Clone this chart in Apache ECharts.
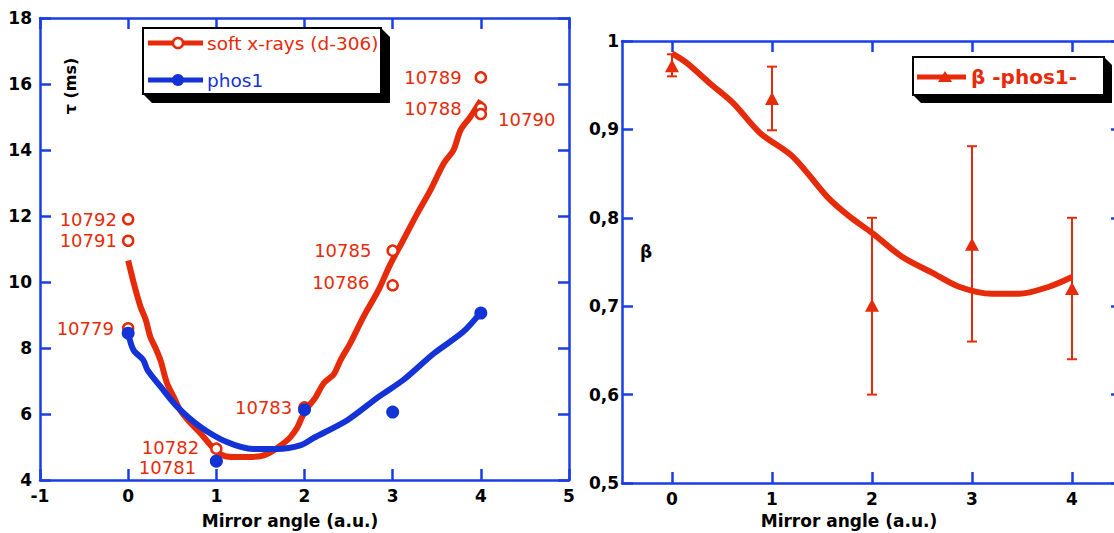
<!DOCTYPE html>
<html>
<head>
<meta charset="utf-8">
<script src="https://cdn.jsdelivr.net/npm/echarts@6/dist/echarts.min.js"></script>
<style>
html,body{margin:0;padding:0;background:#fff;}
#chart{width:1114px;height:533px;}
</style>
</head>
<body>
<div id="chart"></div>
<script>
// ---------- DATA ----------
// Left panel: tau (ms) vs mirror angle
const leftXTicks = [-1, 0, 1, 2, 3, 4, 5];
const leftYTicks = [4, 6, 8, 10, 12, 14, 16, 18];
const softShotX = [0, 0, 0, 1, 1, 2, 3, 3, 4, 4, 4];
const softShotY = [11.9, 11.25, 8.6, 4.95, 4.58, 6.2, 10.95, 9.9, 16.2, 15.27, 15.09];
const softShotId = ['10792', '10791', '10779', '10782', '10781', '10783', '10785', '10786', '10789', '10788', '10790'];
const phosShotX = [0, 1, 2, 3, 4];
const phosShotY = [8.45, 4.57, 6.13, 6.06, 9.06];
const softFitX = [0, 0.07, 0.14, 0.2, 0.25, 0.32, 0.37, 0.44, 0.52, 0.59, 0.7, 0.82, 0.92, 1.01, 1.1, 1.2, 1.35, 1.5, 1.6, 1.69, 1.78, 1.84, 1.92, 1.98, 2.05, 2.12, 2.22, 2.33, 2.41, 2.52, 2.67, 2.84, 2.97, 3.12, 3.28, 3.43, 3.58, 3.69, 3.77, 3.88, 4.0];
const softFitY = [10.65, 9.9, 9.25, 8.85, 8.35, 7.94, 7.6, 6.94, 6.5, 6.12, 5.75, 5.42, 5.1, 4.85, 4.72, 4.7, 4.7, 4.72, 4.82, 4.97, 5.15, 5.3, 5.6, 5.95, 6.25, 6.48, 6.94, 7.2, 7.64, 8.15, 8.95, 9.76, 10.52, 11.27, 12.08, 12.79, 13.6, 14.0, 14.6, 15.0, 15.5];
const phosFitX = [0, 0.06, 0.17, 0.22, 0.37, 0.56, 0.82, 1.12, 1.42, 1.69, 1.96, 2.1, 2.49, 2.84, 3.12, 3.47, 3.8, 4.0];
const phosFitY = [8.45, 7.94, 7.64, 7.33, 6.82, 6.21, 5.61, 5.15, 4.94, 4.94, 5.06, 5.27, 5.82, 6.52, 7.03, 7.84, 8.49, 9.08];

// Right panel: beta vs mirror angle
const rightXTicks = [0, 1, 2, 3, 4];
const rightYTicks = [0.5, 0.6, 0.7, 0.8, 0.9, 1];
const betaX = [0, 1, 2, 3, 4];
const betaY = [0.972, 0.935, 0.701, 0.77, 0.72];
const betaLow = [0.96, 0.899, 0.6, 0.66, 0.64];
const betaHigh = [0.985, 0.971, 0.8, 0.881, 0.8];
const betaFitX = [0, 0.15, 0.38, 0.61, 0.88, 1.21, 1.55, 1.78, 2.0, 2.3, 2.6, 2.87, 3.2, 3.47, 3.77, 4.0];
const betaFitY = [0.986, 0.975, 0.952, 0.93, 0.896, 0.869, 0.824, 0.801, 0.783, 0.756, 0.738, 0.722, 0.714, 0.714, 0.722, 0.733];

// ---------- STYLE ----------
const RED = '#e62b0a';
const BLUE = '#1433d6';
const AXIS_BLUE = '#1a3ee6';
const FONT = 'DejaVu Sans';

// label placement for each shot id (style only)
const softLabelPlace = {
  '10792': {position: 'left', distance: 5},
  '10791': {position: 'left', distance: 5},
  '10779': {position: 'left', distance: 8},
  '10782': {position: 'left', distance: 11, offset: [0, -1]},
  '10781': {position: 'left', distance: 14, offset: [0, 7]},
  '10783': {position: 'left', distance: 6},
  '10785': {position: 'left', distance: 15},
  '10786': {position: 'left', distance: 17, offset: [0, -3]},
  '10789': {position: 'left', distance: 13},
  '10788': {position: 'left', distance: 13},
  '10790': {position: 'right', distance: 11, offset: [0, 5]}
};

const zip = (xs, ys) => xs.map((x, i) => [x, ys[i]]);

const tickLabel = {color: '#000', fontFamily: FONT, fontWeight: 'bold', fontSize: 17};
function frameAxis(extra) {
  return Object.assign({
    type: 'value',
    axisLine: {show: true, onZero: false, lineStyle: {color: AXIS_BLUE, width: 2.5}},
    axisTick: {show: true, inside: true, length: 11, lineStyle: {color: AXIS_BLUE, width: 2.5}},
    splitLine: {show: false}
  }, extra);
}
const commaFmt = v => (Math.abs(v - 1) < 1e-9 ? '1' : v.toFixed(1).replace('.', ','));

const softPoints = softShotX.map((x, i) => {
  const pl = softLabelPlace[softShotId[i]] || {position: 'left', distance: 6};
  return {
    value: [x, softShotY[i]],
    name: softShotId[i],
    label: Object.assign({show: true, formatter: '{b}', color: RED, opacity: 1, fontFamily: FONT, fontSize: 18}, pl)
  };
});

const errData = betaX.map((x, i) => [x, betaLow[i], betaHigh[i]]);

const option = {
  animation: false,
  backgroundColor: '#fff',
  grid: [
    {left: 40, top: 18, width: 529, height: 462, containLabel: false, outerBoundsMode: 'none'},
    {left: 622, top: 41, width: 500, height: 442, containLabel: false, outerBoundsMode: 'none'}
  ],
  xAxis: [
    frameAxis({gridIndex: 0, position: 'bottom', min: leftXTicks[0], max: leftXTicks[leftXTicks.length - 1], interval: 1,
      axisLabel: Object.assign({margin: 7}, tickLabel)}),
    frameAxis({gridIndex: 0, position: 'top', min: leftXTicks[0], max: leftXTicks[leftXTicks.length - 1], interval: 1,
      axisLabel: {show: false}}),
    frameAxis({gridIndex: 1, position: 'bottom', min: -0.5, max: 4.5,
      axisTick: {show: true, inside: true, length: 11, customValues: rightXTicks, lineStyle: {color: AXIS_BLUE, width: 2.5}},
      axisLabel: Object.assign({margin: 7, customValues: rightXTicks}, tickLabel)}),
    frameAxis({gridIndex: 1, position: 'top', min: -0.5, max: 4.5,
      axisTick: {show: true, inside: true, length: 11, customValues: rightXTicks, lineStyle: {color: AXIS_BLUE, width: 2.5}},
      axisLabel: {show: false}})
  ],
  yAxis: [
    frameAxis({gridIndex: 0, position: 'left', min: leftYTicks[0], max: leftYTicks[leftYTicks.length - 1], interval: 2,
      axisLabel: Object.assign({margin: 8}, tickLabel)}),
    frameAxis({gridIndex: 0, position: 'right', min: leftYTicks[0], max: leftYTicks[leftYTicks.length - 1], interval: 2,
      axisLabel: {show: false}}),
    frameAxis({gridIndex: 1, position: 'left', min: rightYTicks[0], max: rightYTicks[rightYTicks.length - 1], interval: 0.1,
      axisLabel: Object.assign({margin: 3, formatter: commaFmt}, tickLabel)}),
    frameAxis({gridIndex: 1, position: 'right', min: rightYTicks[0], max: rightYTicks[rightYTicks.length - 1], interval: 0.1,
      axisLabel: {show: false}})
  ],
  series: [
    {name: 'soft x-rays fit', type: 'line', xAxisIndex: 0, yAxisIndex: 0, data: zip(softFitX, softFitY),
      showSymbol: false, symbol: 'none', smooth: 0.3, lineStyle: {color: RED, width: 6}, z: 2},
    {name: 'phos1 fit', type: 'line', xAxisIndex: 0, yAxisIndex: 0, data: zip(phosFitX, phosFitY),
      showSymbol: false, symbol: 'none', smooth: 0.3, lineStyle: {color: BLUE, width: 6}, z: 3},
    {name: 'soft x-rays (d-306)', type: 'scatter', xAxisIndex: 0, yAxisIndex: 0, data: softPoints,
      symbol: 'circle', symbolSize: 10, itemStyle: {color: '#fff', borderColor: RED, borderWidth: 2.5, opacity: 1}, z: 4},
    {name: 'phos1', type: 'scatter', xAxisIndex: 0, yAxisIndex: 0, data: zip(phosShotX, phosShotY),
      symbol: 'circle', symbolSize: 13, itemStyle: {color: BLUE, opacity: 1}, z: 5},
    {name: 'beta fit', type: 'line', xAxisIndex: 2, yAxisIndex: 2, data: zip(betaFitX, betaFitY),
      showSymbol: false, symbol: 'none', smooth: 0.3, lineStyle: {color: RED, width: 6}, z: 2},
    {name: 'beta err', type: 'custom', xAxisIndex: 2, yAxisIndex: 2, data: errData,
      encode: {x: 0, y: [1, 2]}, z: 3,
      renderItem: function (params, api) {
        const x = api.value(0);
        const top = api.coord([x, api.value(2)]);
        const bot = api.coord([x, api.value(1)]);
        const w = 5;
        const st = {stroke: RED, lineWidth: 2};
        return {type: 'group', children: [
          {type: 'line', shape: {x1: top[0], y1: top[1], x2: bot[0], y2: bot[1]}, style: st},
          {type: 'line', shape: {x1: top[0] - w, y1: top[1], x2: top[0] + w, y2: top[1]}, style: st},
          {type: 'line', shape: {x1: bot[0] - w, y1: bot[1], x2: bot[0] + w, y2: bot[1]}, style: st}
        ]};
      }},
    {name: 'β -phos1-', type: 'scatter', xAxisIndex: 2, yAxisIndex: 2, data: zip(betaX, betaY),
      symbol: 'triangle', symbolSize: [14, 13], itemStyle: {color: RED, opacity: 1}, z: 4}
  ],
  graphic: [
    // left legend box
    {type: 'polygon', z: 100, shape: {points: [[143, 94], [152, 103], [390, 103], [390, 37], [381, 28]]}, style: {fill: '#000'}},
    {type: 'rect', z: 101, shape: {x: 143, y: 28, width: 238, height: 66}, style: {fill: '#fff', stroke: '#000', lineWidth: 2}},
    {type: 'line', z: 102, shape: {x1: 148, y1: 43, x2: 203, y2: 43}, style: {stroke: RED, lineWidth: 5}},
    {type: 'circle', z: 103, shape: {cx: 178, cy: 43, r: 5}, style: {fill: '#fff', stroke: RED, lineWidth: 2.5}},
    {type: 'text', z: 103, x: 207, y: 43, style: {text: 'soft x-rays (d-306)', fill: RED, font: '18.5px "DejaVu Sans"', verticalAlign: 'middle', align: 'left'}},
    {type: 'line', z: 102, shape: {x1: 148, y1: 80, x2: 203, y2: 80}, style: {stroke: BLUE, lineWidth: 5}},
    {type: 'circle', z: 103, shape: {cx: 178, cy: 80, r: 6}, style: {fill: BLUE}},
    {type: 'text', z: 103, x: 207, y: 80, style: {text: 'phos1', fill: BLUE, font: '18.5px "DejaVu Sans"', verticalAlign: 'middle', align: 'left'}},
    // right legend box
    {type: 'polygon', z: 100, shape: {points: [[913, 95], [921, 103], [1112, 103], [1112, 65], [1104, 57]]}, style: {fill: '#000'}},
    {type: 'rect', z: 101, shape: {x: 913, y: 57, width: 191, height: 38}, style: {fill: '#fff', stroke: '#000', lineWidth: 2}},
    {type: 'line', z: 102, shape: {x1: 917, y1: 77, x2: 966, y2: 77}, style: {stroke: RED, lineWidth: 5}},
    {type: 'polygon', z: 103, shape: {points: [[945, 71], [952, 82], [938, 82]]}, style: {fill: RED}},
    {type: 'text', z: 103, x: 971, y: 77, style: {text: 'β -phos1-', fill: RED, font: 'bold 20px "DejaVu Sans"', verticalAlign: 'middle', align: 'left'}},
    // axis titles
    {type: 'text', x: 70, y: 86, rotation: Math.PI / 2, style: {text: 'τ (ms)', fill: '#000', font: 'bold 16px "DejaVu Sans"', align: 'center', verticalAlign: 'middle'}},
    {type: 'text', x: 646, y: 252, style: {text: 'β', fill: '#000', font: 'bold 17px "DejaVu Sans"', align: 'center', verticalAlign: 'middle'}},
    {type: 'text', x: 290, y: 521, style: {text: 'Mirror angle (a.u.)', fill: '#000', font: 'bold 17px "DejaVu Sans"', align: 'center', verticalAlign: 'middle'}},
    {type: 'text', x: 849, y: 521, style: {text: 'Mirror angle (a.u.)', fill: '#000', font: 'bold 17px "DejaVu Sans"', align: 'center', verticalAlign: 'middle'}}
  ]
};

const chart = echarts.init(document.getElementById('chart'), null, {renderer: 'svg'});
chart.setOption(option);
</script>
</body>
</html>
